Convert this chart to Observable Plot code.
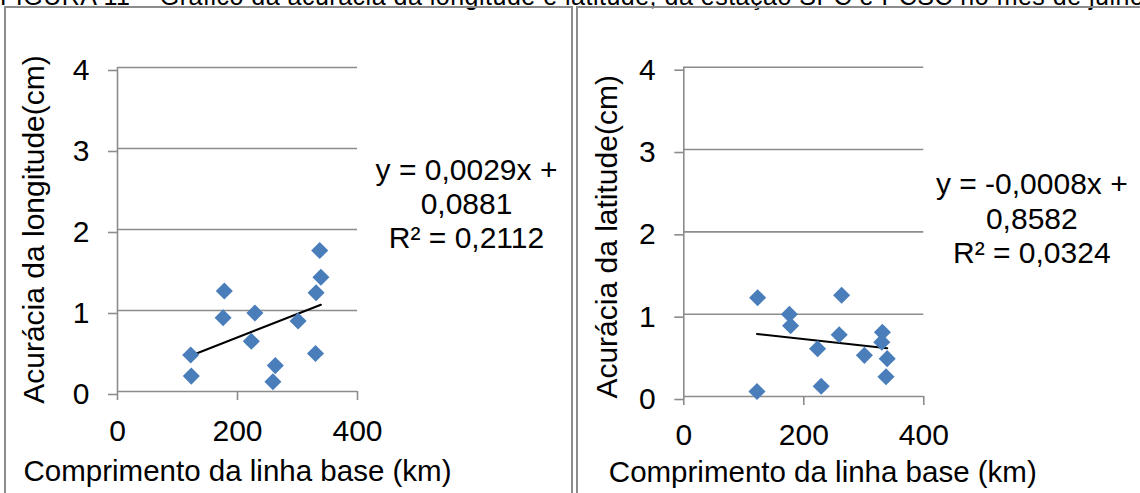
<!DOCTYPE html>
<html><head><meta charset="utf-8">
<script src="https://cdn.jsdelivr.net/npm/d3@7"></script>
<script src="https://cdn.jsdelivr.net/npm/@observablehq/plot@0.6"></script>
<style>
html,body{margin:0;padding:0;background:#fff;}
#wrap{position:relative;width:1140px;height:493px;overflow:hidden;font-family:"Liberation Sans",Arial,sans-serif;}
#title{position:absolute;left:0;top:-16px;white-space:nowrap;font-size:25px;line-height:25px;color:#000;letter-spacing:0.5px;}
.box{position:absolute;top:6px;height:520px;border:2px solid #8c8c8c;box-sizing:border-box;}
.chart{position:absolute;top:0;}
</style></head><body>
<div id="wrap">
<div id="title">FIGURA 11 – Gráfico da acurácia da longitude e latitude, da estação SPC e PCSC no mês de julho</div>
<div class="box" style="left:4px;width:569px"></div>
<div class="box" style="left:576px;width:600px"></div>
<div class="chart" id="c1" style="left:0;width:575px"></div>
<div class="chart" id="c2" style="left:575px;width:565px"></div>
</div>
<script>
// Comprimento da linha base (km) de cada estação
const baselines = [122, 123, 176, 178, 223, 229, 259, 263, 301, 330, 331, 337, 339];
// Acurácia da longitude (cm)
const lonAccuracy = [0.45, 0.19, 0.91, 1.24, 0.62, 0.97, 0.12, 0.32, 0.87, 0.47, 1.22, 1.74, 1.41];
// Acurácia da latitude (cm)
const latAccuracy = [0.06, 1.20, 1.00, 0.86, 0.58, 0.125, 0.75, 1.23, 0.50, 0.66, 0.78, 0.24, 0.46];
// Linhas de tendência (y = a x + b)
const lonTrend = [0.0029, 0.0881];
const latTrend = [-0.0008, 0.8582];
const lonEquation = ["y = 0,0029x +", "0,0881", "R² = 0,2112"];
const latEquation = ["y = -0,0008x +", "0,8582", "R² = 0,0324"];
const xTicks = [0, 200, 400];
const yTicks = [0, 1, 2, 3, 4];
const xTitle = "Comprimento da linha base (km)";
const lonTitle = "Acurácia da longitude(cm)";
const latTitle = "Acurácia da latitude(cm)";

const GRAY = "#8c8c8c";
const BLUE = "#4A7EBB";

function panel(o) {
  const data = baselines.map((b, i) => ({x: b, y: o.acc[i]}));
  const [x0, x1] = d3.extent(baselines);
  const trend = [x0, x1].map(x => ({x, y: o.trend[0] * x + o.trend[1]}));
  return Plot.plot({
    width: o.w, height: 493,
    marginLeft: o.mL, marginRight: o.mR, marginTop: o.mT, marginBottom: o.mB,
    x: {domain: [0, 400]},
    y: {domain: [0, 4]},
    style: "background:none;overflow:visible;font-family:'Liberation Sans',Arial,sans-serif;color:#000",
    marks: [
      Plot.ruleY(yTicks, {x1: 0, x2: 400, stroke: GRAY, strokeWidth: 1.6}),
      Plot.ruleX([0], {y1: 0, y2: 4, stroke: GRAY, strokeWidth: 1.6}),
      Plot.axisY({ticks: yTicks, tickFormat: d => String(d), tickSize: 9, tickPadding: 19, fontSize: 30, stroke: GRAY, strokeWidth: 1.6, fill: "black", label: null, dy: 3}),
      Plot.axisX({ticks: xTicks, tickFormat: d => String(d), tickSize: 9, tickPadding: o.xPad, fontSize: 30, stroke: GRAY, strokeWidth: 1.6, fill: "black", label: null}),
      Plot.line(trend, {x: "x", y: "y", stroke: "black", strokeWidth: 2}),
      Plot.dot(data, {x: "x", y: "y", symbol: "diamond2", r: 7.7, fill: BLUE, stroke: "none"}),
      Plot.text([o.yTitle], {text: d => d, frameAnchor: "left", rotate: -90, dx: o.ytDx, dy: o.ytDy, fontSize: 30, textAnchor: "middle", lineAnchor: "middle", fill: "black"}),
      Plot.text([xTitle], {text: d => d, frameAnchor: "bottom", dx: o.xtDx, dy: o.xtDy, fontSize: 29.5, textAnchor: "middle", lineAnchor: "middle", fill: "black"}),
      Plot.text([o.eq.join("\n")], {text: d => d, frameAnchor: "top-left", dx: o.eqDx, dy: o.eqDy, fontSize: 30, textAnchor: "middle", lineAnchor: "top", lineHeight: 1.14, fill: "black"})
    ]
  });
}

document.getElementById("c1").append(panel({
  acc: lonAccuracy, trend: lonTrend, eq: lonEquation, yTitle: lonTitle,
  w: 575, mL: 117, mR: 218, mT: 67, mB: 102, xPad: 19,
  ytDx: -83, ytDy: 0, xtDx: 0, xtDy: 80, eqDx: 349, eqDy: 88
}));
document.getElementById("c2").append(panel({
  acc: latAccuracy, trend: latTrend, eq: latEquation, yTitle: latTitle,
  w: 565, mL: 108.3, mR: 216.7, mT: 66.7, mB: 97, xPad: 18,
  ytDx: -76, ytDy: 5, xtDx: 19, xtDy: 76, eqDx: 348, eqDy: 103
}));
</script>
</body></html>
